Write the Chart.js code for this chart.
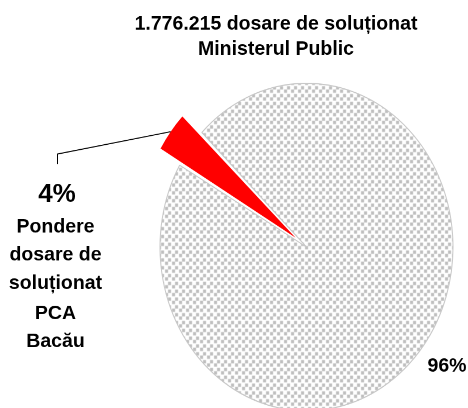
<!DOCTYPE html>
<html>
<head>
<meta charset="utf-8">
<script src="https://cdn.jsdelivr.net/npm/chart.js@4/dist/chart.umd.min.js"></script>
<style>
  html, body { margin: 0; padding: 0; background: #fff; }
  #pie { display: block; }
</style>
</head>
<body>
<!-- drawn at 468x365 and shown at 468x408: the original pie is an ellipse -->
<canvas id="pie" width="468" height="365" style="width:468px;height:408px"></canvas>
<script>
const titleLines = ['1.776.215 dosare de soluționat', 'Ministerul Public'];
const labels = ['PCA Bacău', 'Restul Ministerului Public'];
const values = [4, 96];
const sliceText = ['Pondere', 'dosare de', 'soluționat', 'PCA', 'Bacău'];

const stretch = 408 / 365;
const canvas = document.getElementById('pie');

// dotted grey fill like the Excel pattern
function dots() {
    const tile = document.createElement('canvas');
    tile.width = 7;
    tile.height = 7;
    const t = tile.getContext('2d');
    t.fillStyle = '#ffffff';
    t.fillRect(0, 0, 7, 7);
    t.fillStyle = '#bebebe';
    t.fillRect(0, 0, 3, 3);
    t.fillRect(4, 3, 3, 3);
    return canvas.getContext('2d').createPattern(tile, 'repeat');
}

const textPlugin = {
    id: 'pieText',
    afterDraw(chart) {
        const ctx = chart.ctx;
        const arc = chart.getDatasetMeta(0).data[0];
        const p = arc.getProps(['x', 'y', 'startAngle', 'endAngle', 'outerRadius', 'circumference'], true);
        const mid = (p.startAngle + p.endAngle) / 2;
        // same push chart.js gives an offset arc
        const off = (arc.options.offset || 0) / 4;
        const push = off + off * (1 - Math.sin(Math.min(Math.PI, p.circumference)));
        const r = p.outerRadius + push;
        const ex = p.x + Math.cos(mid) * r;
        const ey = (p.y + Math.sin(mid) * r) * stretch;

        ctx.save();
        // undo the vertical stretch so text keeps its shape
        ctx.scale(1, 1 / stretch);

        ctx.strokeStyle = '#000';
        ctx.lineWidth = 1;
        ctx.beginPath();
        ctx.moveTo(57.5, 164);
        ctx.lineTo(57.5, 154);
        ctx.lineTo(ex, ey);
        ctx.stroke();

        ctx.fillStyle = '#000';
        ctx.textAlign = 'center';
        ctx.textBaseline = 'alphabetic';
        ctx.font = 'bold 19.5px "Liberation Sans", Arial, sans-serif';
        ctx.fillText(titleLines[0], 276, 29.5);
        ctx.fillText(titleLines[1], 276, 54.5);

        ctx.font = 'bold 26px "Liberation Sans", Arial, sans-serif';
        ctx.fillText(values[0] + '%', 57, 201.5);

        ctx.font = 'bold 19.5px "Liberation Sans", Arial, sans-serif';
        const rows = [232.5, 260.5, 289, 319, 347];
        sliceText.forEach((s, i) => ctx.fillText(s, 55.5, rows[i]));

        ctx.fillText(values[1] + '%', 447, 371.5);
        ctx.restore();
    }
};

const data = {
    labels: labels,
    datasets: [{
        data: values,
        backgroundColor: ['#ff0000', dots()],
        borderColor: ['#ff0000', '#c8c8c8'],
        borderWidth: [0, 1],
        offset: [55, 0],
        hoverOffset: 0
    }]
};

const config = {
    type: 'pie',
    data: data,
    options: {
        responsive: false,
        devicePixelRatio: 2,
        animation: false,
        events: [],
        rotation: 300,
        radius: 146.5,
        layout: { padding: { left: 150, right: 5, top: 80, bottom: 3 } },
        plugins: {
            legend: { display: false },
            title: { display: false },
            tooltip: { enabled: false }
        }
    },
    plugins: [textPlugin]
};

const pieChart = new Chart(canvas, config);
</script>
</body>
</html>
